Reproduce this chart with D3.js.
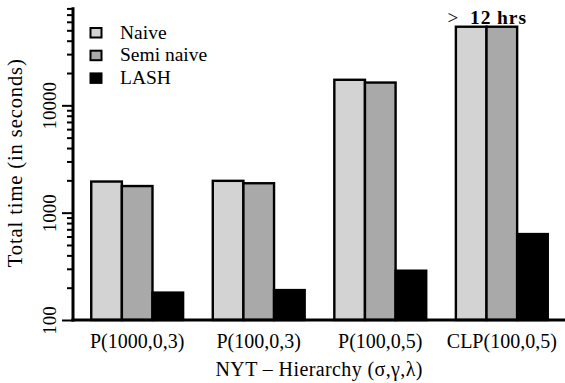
<!DOCTYPE html>
<html>
<head>
<meta charset="utf-8">
<script src="https://cdn.jsdelivr.net/npm/d3@7/dist/d3.min.js"></script>
<style>
  html, body { margin: 0; padding: 0; background: #fff; }
  svg { display: block; }
  text { font-family: "Liberation Serif", "Times New Roman", serif; fill: #000; }
</style>
</head>
<body>
<svg id="chart" width="565" height="383"></svg>
<script>
// ---- data ----
const categories = ["P(1000,0,3)", "P(100,0,3)", "P(100,0,5)", "CLP(100,0,5)"];
const seriesNames = ["Naive", "Semi naive", "LASH"];
const naive = [1950, 1980, 17300, 54000];
const semiNaive = [1770, 1880, 16300, 54000];
const lash = [180, 190, 288, 632];
const majorTicks = [100, 1000, 10000];
const minorTicks = [200, 300, 400, 500, 600, 700, 800, 900,
                    2000, 3000, 4000, 5000, 6000, 7000, 8000, 9000,
                    20000, 30000, 40000, 50000, 60000, 70000, 80000];
const xTitle = "NYT \u2013 Hierarchy (\u03c3,\u03b3,\u03bb)";
const yTitle = "Total time (in seconds)";
const annotation = "12 hrs";

const colors = ["#d3d3d3", "#a9a9a9", "#000000"];
const values = [naive, semiNaive, lash];

// ---- layout ----
const svg = d3.select("#chart");
const mLeft = 73, mRight = 566, mTop = 8.4, mBottom = 320;

const x = d3.scaleBand().domain(categories).range([mLeft, mRight])
  .paddingInner(0.244).paddingOuter(0.15);
const xs = d3.scaleBand().domain(seriesNames).range([0, x.bandwidth()]);
const y = d3.scaleLog().domain([100, 80000]).range([mBottom, mTop]);

// bars
const rows = categories.map((c, i) => ({ cat: c, vals: seriesNames.map((s, j) => ({ s, j, v: values[j][i] })) }));
const g = svg.append("g");
g.selectAll("g.grp").data(rows).join("g")
  .attr("class", "grp")
  .attr("transform", d => `translate(${x(d.cat)},0)`)
  .selectAll("rect").data(d => d.vals).join("rect")
  .attr("x", d => xs(d.s))
  .attr("y", d => y(d.v))
  .attr("width", xs.bandwidth())
  .attr("height", d => mBottom - y(d.v))
  .attr("fill", d => colors[d.j])
  .attr("stroke", "#000")
  .attr("stroke-width", 2.4);

// y axis: minor ticks
const minorAxis = d3.axisLeft(y).tickValues(minorTicks).tickSize(6).tickFormat("");
const gMinor = svg.append("g").attr("transform", `translate(${mLeft},0)`).call(minorAxis);
gMinor.select(".domain").remove();
gMinor.selectAll(".tick line").attr("stroke", "#000").attr("stroke-width", 2);

// y axis: major ticks with rotated labels
const majorAxis = d3.axisLeft(y).tickValues(majorTicks).tickSize(11).tickFormat(d3.format("d"));
const gMajor = svg.append("g").attr("transform", `translate(${mLeft},0)`).call(majorAxis);
gMajor.select(".domain").remove();
gMajor.selectAll(".tick line").attr("stroke", "#000").attr("stroke-width", 2);
gMajor.selectAll(".tick text")
  .attr("x", null).attr("dy", null)
  .attr("transform", "translate(-17,0) rotate(-90)")
  .attr("text-anchor", "middle")
  .attr("font-size", 19);

// axis lines
svg.append("line").attr("x1", mLeft).attr("x2", mLeft).attr("y1", mBottom + 1.5).attr("y2", y(80000) - 1.2)
  .attr("stroke", "#000").attr("stroke-width", 3);
svg.append("line").attr("x1", mLeft - 1.5).attr("x2", 565).attr("y1", mBottom).attr("y2", mBottom)
  .attr("stroke", "#000").attr("stroke-width", 3);

// x category labels
svg.append("g").selectAll("text").data(categories).join("text")
  .attr("x", d => x(d) + x.bandwidth() / 2)
  .attr("y", 348)
  .attr("text-anchor", "middle")
  .attr("font-size", 20)
  .text(d => d);

// axis titles
svg.append("text").attr("x", 319).attr("y", 375.5)
  .attr("text-anchor", "middle").attr("font-size", 20)
  .attr("textLength", 207).attr("lengthAdjust", "spacing")
  .text(xTitle);
svg.append("text")
  .attr("transform", `translate(22,${(mTop + mBottom) / 2 - 1}) rotate(-90)`)
  .attr("text-anchor", "middle").attr("font-size", 20.5)
  .attr("textLength", 208).attr("lengthAdjust", "spacing")
  .text(yTitle);

// legend
const leg = svg.append("g");
seriesNames.forEach((s, j) => {
  const ly = 28 + j * 22.7;
  leg.append("rect").attr("x", 90.5).attr("y", ly).attr("width", 11).attr("height", 9.5)
    .attr("fill", colors[j]).attr("stroke", "#000").attr("stroke-width", 2);
  leg.append("text").attr("x", 120).attr("y", ly + 10.5).attr("font-size", 19.5).text(s);
});

// annotation above the capped bars
const annX = x(categories[3]) + xs("Semi naive");
svg.append("text").attr("x", annX - 39).attr("y", 23.5).attr("font-size", 19).text(">");
svg.append("text").attr("x", annX - 16.5).attr("y", 23.5).attr("font-size", 19.5)
  .attr("font-weight", "bold").attr("textLength", 56).attr("lengthAdjust", "spacing")
  .text(annotation);
</script>
</body>
</html>
